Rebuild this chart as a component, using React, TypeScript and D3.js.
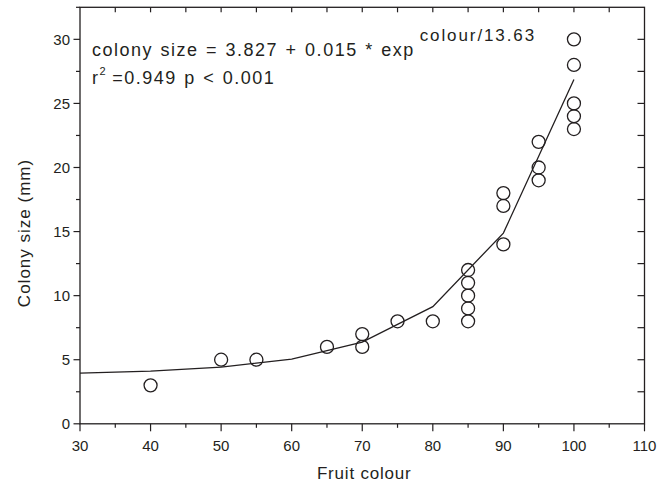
import React, { useEffect, useRef } from 'react';
import * as d3 from 'd3';

// observed colonies: fruit colour vs colony size
const colour = [40, 50, 55, 65, 70, 70, 75, 80, 85, 85, 85, 85, 85, 90, 90, 90, 95, 95, 95, 100, 100, 100, 100, 100];
const size = [3, 5, 5, 6, 7, 6, 8, 8, 12, 11, 10, 9, 8, 18, 17, 14, 22, 20, 19, 30, 28, 25, 24, 23];

// fitted curve read at every 10 units of colour
const fitX = [30, 40, 50, 60, 70, 80, 90, 100];
const fitY = [3.96, 4.11, 4.42, 5.05, 6.38, 9.14, 14.88, 26.86];

const xTicks = [30, 40, 50, 60, 70, 80, 90, 100, 110];
const yTicks = [0, 5, 10, 15, 20, 25, 30];

const W = 670;
const H = 488;
const font = '"Liberation Sans", Arial, sans-serif';

export default function App() {
    const svgRef = useRef<SVGSVGElement | null>(null);

    useEffect(() => {
        if (!svgRef.current) return;
        const svg = d3.select(svgRef.current);
        svg.selectAll('*').remove();

        const left = 80, right = 644.5, top = 7.3, bottom = 423.8;
        const x = d3.scaleLinear().domain([30, 110]).range([left, right]);
        const y = d3.scaleLinear().domain([0, 32.5]).range([bottom, top]);
        const ink = '#231f20';

        const g = svg.append('g');

        // frame
        g.append('rect')
            .attr('x', left).attr('y', top)
            .attr('width', right - left).attr('height', bottom - top)
            .attr('fill', 'none').attr('stroke', ink).attr('stroke-width', 1.3);

        const minorX = d3.range(35, 110, 10);
        const allX = d3.range(35, 110, 5);
        const minorY = d3.range(2.5, 33, 5);
        const allY = d3.range(2.5, 32.4, 2.5);

        // bottom ticks (outside)
        g.selectAll('.bx').data(xTicks).join('line')
            .attr('x1', (d) => x(d)).attr('x2', (d) => x(d))
            .attr('y1', bottom).attr('y2', bottom + 7.5)
            .attr('stroke', ink).attr('stroke-width', 1.2);
        g.selectAll('.bxm').data(minorX).join('line')
            .attr('x1', (d) => x(d)).attr('x2', (d) => x(d))
            .attr('y1', bottom).attr('y2', bottom + 4)
            .attr('stroke', ink).attr('stroke-width', 1.2);
        // top ticks (inside)
        g.selectAll('.tx').data(allX).join('line')
            .attr('x1', (d) => x(d)).attr('x2', (d) => x(d))
            .attr('y1', top).attr('y2', top + 5)
            .attr('stroke', ink).attr('stroke-width', 1.2);
        // left ticks (outside)
        g.selectAll('.ly').data(yTicks).join('line')
            .attr('x1', left - 6.5).attr('x2', left)
            .attr('y1', (d) => y(d)).attr('y2', (d) => y(d))
            .attr('stroke', ink).attr('stroke-width', 1.2);
        g.selectAll('.lym').data(minorY).join('line')
            .attr('x1', left - 4).attr('x2', left)
            .attr('y1', (d) => y(d)).attr('y2', (d) => y(d))
            .attr('stroke', ink).attr('stroke-width', 1.2);
        // right ticks (inside)
        g.selectAll('.ry').data(allY).join('line')
            .attr('x1', right - 7).attr('x2', right)
            .attr('y1', (d) => y(d)).attr('y2', (d) => y(d))
            .attr('stroke', ink).attr('stroke-width', 1.2);

        // tick labels
        g.selectAll('.xl').data(xTicks).join('text')
            .attr('x', (d) => x(d)).attr('y', bottom + 27)
            .attr('text-anchor', 'middle')
            .attr('font-family', font).attr('font-size', 15).attr('fill', ink)
            .text((d) => d);
        g.selectAll('.yl').data(yTicks).join('text')
            .attr('x', left - 10).attr('y', (d) => y(d) + 5.5)
            .attr('text-anchor', 'end')
            .attr('font-family', font).attr('font-size', 15).attr('fill', ink)
            .text((d) => d);

        // axis titles
        g.append('text')
            .attr('x', (left + right) / 2 + 2).attr('y', 479)
            .attr('text-anchor', 'middle')
            .attr('font-family', font).attr('font-size', 17).attr('letter-spacing', 0.8).attr('fill', ink)
            .text('Fruit colour');
        g.append('text')
            .attr('transform', 'translate(30,233) rotate(-90)')
            .attr('text-anchor', 'middle')
            .attr('font-family', font).attr('font-size', 17).attr('letter-spacing', 1).attr('fill', ink)
            .text('Colony size (mm)');

        // fitted curve
        const line = d3.line<number>()
            .x((d, i) => x(fitX[i]))
            .y((d) => y(d));
        g.append('path')
            .datum(fitY)
            .attr('d', line)
            .attr('fill', 'none')
            .attr('stroke', ink)
            .attr('stroke-width', 1.3);

        // points
        g.selectAll('.pt').data(colour).join('circle')
            .attr('cx', (d) => x(d))
            .attr('cy', (d, i) => y(size[i]))
            .attr('r', 6.5)
            .attr('fill', 'none')
            .attr('stroke', ink)
            .attr('stroke-width', 1.3);

        // equation
        const eq = g.append('text')
            .attr('x', 92).attr('y', 56)
            .attr('font-family', font).attr('font-size', 18).attr('letter-spacing', 1.5)
            .attr('word-spacing', 1).attr('fill', ink);
        eq.append('tspan').text('colony size = 3.827 + 0.015 * exp');
        eq.append('tspan').attr('dx', 5).attr('dy', -15).attr('font-size', 17).attr('letter-spacing', 1.9).text('colour/13.63');

        const r2 = g.append('text')
            .attr('x', 92).attr('y', 84)
            .attr('font-family', font).attr('font-size', 18).attr('letter-spacing', 1.5)
            .attr('word-spacing', 1).attr('fill', ink);
        r2.append('tspan').text('r');
        r2.append('tspan').attr('dy', -9).attr('font-size', 11).text('2');
        r2.append('tspan').attr('dy', 9).attr('dx', 5).text('=0.949 p < 0.001');
    }, []);

    return (
        <svg ref={svgRef} width={W} height={H} style={{ position: 'absolute', left: 0, top: 0, background: '#fff' }} />
    );
}
